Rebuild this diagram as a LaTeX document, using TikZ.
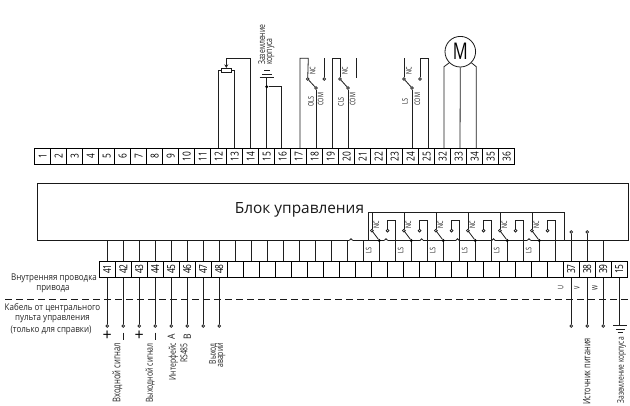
\documentclass[tikz,border=0pt]{standalone}
\usetikzlibrary{arrows.meta}
\usepackage{graphicx}
\usepackage{fontspec}
\setmainfont{Open Sans}
\newfontfamily\cond[FakeStretch=0.86]{Open Sans}
\newfontfamily\condn[FakeStretch=0.76]{Open Sans}
\newfontfamily\condx[FakeStretch=0.72]{Open Sans}
\newcommand{\rt}[1]{\rotatebox{90}{#1}}
\tikzset{
  wire/.style={draw=black!88,line width=0.8pt},
  term/.style={draw=black,line width=1pt,rectangle,minimum width=16pt,minimum height=16pt,inner sep=0pt,font=\condn\fontsize{11}{11}\selectfont},
  odot/.style={circle,draw=black!90,fill=white,line width=0.75pt,inner sep=0pt,minimum size=2.8pt},
  fdot/.style={circle,fill=black,inner sep=0pt,minimum size=3.2pt},
  vlab/.style={rotate=90,inner sep=0pt,font=\condx\fontsize{7.6}{7.6}\selectfont,text=black!90},
  cap9/.style={rotate=90,inner sep=0pt,anchor=east,font=\condx\fontsize{9.5}{9.5}\selectfont,text=black!85},
  side/.style={inner sep=0pt,font=\cond\fontsize{9.3}{9.3}\selectfont,text=black!85},
}
\begin{document}
\begin{tikzpicture}[x=1pt,y=-1pt]
\useasboundingbox (0,0) rectangle (630,405);
\fill[white] (0,0) rectangle (630,405);
% top terminal strip
\foreach \lab [count=\k from 0] in {1,2,3,4,5,6,7,8,9,10,11,12,13,14,15,16,17,18,19,20,21,22,23,24,25,32,33,34,35,36}
  \node[term] (t\lab) at ({42.7+16*\k},156.3) {\rt{\lab}};
% wire take-offs on the top strip
\foreach \lab/\wx in {12/218.7,13/234.7,14/250.7,15/266.7,16/281.3,17/300,18/316,19/332,20/348,24/412,25/428.3,32/444,33/460,34/476.3}
  \coordinate (w\lab) at (\wx,148.3);
% potentiometer
\draw[wire] (w12) |- (w13 |- 0,70.7) -- (w13);
\node[draw=black!90,line width=0.8pt,fill=white,minimum width=10pt,minimum height=4pt,inner sep=0pt] (pot) at (226.3,70.3) {};
\coordinate (pa) at (226.3,58.3);
\draw[wire] (w14) |- (pa);
\draw[wire,-{Stealth[length=3.5pt,width=4pt,open]}] (pa) -- (pot.north);
% earth
\coordinate (eg) at (266.7,77.3);
\draw[wire] (w15) -- (eg);
\draw[wire] (259.7,77.3) -- (273.7,77.3);
\draw[wire] (262,74) -- (272,74);
\draw[wire] (264,70.5) -- (270,70.5);
\node[fdot] (ed) at (266.7,86.7) {};
\draw[wire] (ed) -| (w16);
\node[cap9,anchor=west] (e1) at (261.7,65) {Заземление};
\node[cap9,anchor=west] (e2) at (270.7,65) {корпуса};
% OLS
\node[odot] (o1) at (307.7,79) {};
\node[odot] (o2) at (316,88) {};
\node[odot] (o3) at (324.3,79) {};
\draw[wire] (w17) |- (308.3,58.3) -- (o1);
\draw[wire] (o1) -- (o2);
\draw[wire] (w18) -- (o2);
\draw[wire] (o3) -- (324.3,58.3);
\node[vlab] (ln1) at (312.7,70.7) {NC};
\node[vlab] (lc1) at (320.7,99.3) {COM};
\node[vlab] (ll1) at (311,101.7) {OLS};
% CLS
\node[odot] (c1) at (340,79) {};
\node[odot] (c2) at (348,88) {};
\draw[wire] (w19) |- (340,58.3) -- (c1);
\draw[wire] (c1) -- (c2);
\draw[wire] (w20) -- (c2);
\draw[wire] (356.3,58.3) -- (356.3,77.7);
\node[vlab] (ln2) at (345,70.7) {NC};
\node[vlab] (lc2) at (352.7,99.3) {COM};
\node[vlab] (ll2) at (341,101.7) {CLS};
% LS
\node[odot] (l1) at (404,79) {};
\node[odot] (l2) at (412,88) {};
\node[odot] (l3) at (420,79) {};
\draw[wire] (l1) -- (404,58.3);
\draw[wire] (l1) -- (l2);
\draw[wire] (w24) -- (l2);
\draw[wire] (l3) |- (428.3,58.3) -- (w25);
\node[vlab] (ln3) at (409,70.7) {NC};
\node[vlab] (lc3) at (417.3,99.3) {COM};
\node[vlab] (ll3) at (405,101.7) {LS};
% motor
\node[circle,draw=black!90,line width=0.8pt,minimum size=30.6pt,inner sep=0pt,font=\condx\fontsize{23}{23}\selectfont] (mot) at (460.3,51.7) {M};
\draw[wire] (w33) -- (mot.south);
\draw[wire] (w32) -- (444,66.7) -- (mot.-135);
\draw[wire] (w34) -- (476.3,66.7) -- (mot.-45);
% control block
\node[draw=black!90,line width=1pt,minimum width=590.5pt,minimum height=57pt,inner sep=0pt] (block) at (332.75,212) {};
\node[inner sep=0pt,anchor=base,font=\fontsize{15.4}{15.4}\selectfont,text=black!90] (title) at (299.5,213) {Блок управления};
% dashed divider
\draw[black!90,line width=0.8pt,dash pattern=on 7pt off 4pt] (5,299.3) -- (630,299.3);
% bottom terminal strip
\foreach \k/\lab in {0/41,1/42,2/43,3/44,4/45,5/46,6/47,7/48,29/37,30/38,31/39,32/15}
  \node[term] (b\k) at ({107.3+16*\k},269.2) {\rt{\lab}};
\foreach \k in {8,...,28}
  \node[term] (b\k) at ({107.3+16*\k},269.2) {};
% wires to block
\foreach \k in {0,...,28,31}
  \draw[wire] (b\k.north) -- (b\k.north |- block.south);
% contour of the limit switches
\coordinate (ca) at (368.3,240.5);
\coordinate (cb) at (564.3,240.5);
\draw[wire] (ca) |- (564.3,212.7) -- (cb);
% switch groups
\foreach \k [evaluate=\k as \x using {107.3+16*\k}, evaluate=\k as \n using int(\k+1)] in {17,19,21,23,25,27} {
  \node[fdot] (s\k) at (\x,240.5) {};
  \node[odot] (sl\k) at (\x-7.4,230.7) {};
  \node[odot] (sr\k) at (\x+8.3,230.7) {};
  \draw[wire] (s\k) -- (sl\k);
  \draw[wire] (sl\k) -- (\x-7.4,212.7);
  \draw[wire] (sr\k) |- (\x+16,220) -- (b\n.north |- block.south);
  \node[vlab] (n\k) at (\x-3,225) {NC};
  \node[vlab] (ls\k) at (\x-10.7,250.7) {LS};
}
% wire-jump bumps on the bus
\foreach \bx [count=\j] in {351,386,421.7,457.5,493.5,529} {
  \draw[white,line width=1.4pt] (\bx-1.7,240.5) -- (\bx+1.7,240.5);
  \draw[wire] (\bx-1.7,240.5) arc[start angle=180,end angle=0,radius=1.7pt];
}
% 37, 38 open contacts
\foreach \k in {29,30} {
  \node[odot] (u\k) at (b\k.north |- 0,232) {};
  \draw[wire] (b\k.north) -- (u\k);
}
% field side wires
\foreach \k in {0,...,7,29,30,31} {
  \node[odot] (d\k) at (b\k.south |- 0,326) {};
  \draw[wire] (b\k.south) -- (d\k);
}
\coordinate (gnd) at (b32.south |- 0,325);
\draw[wire] (b32.south) -- (gnd);
\draw[wire] (613.3,325) -- (626.7,325);
\draw[wire] (615.5,329) -- (624.5,329);
\draw[wire] (617.5,332.5) -- (622.5,332.5);
% signs
\foreach \k/\s in {0/+,2/+} \node[inner sep=0pt,font=\fontsize{16}{16}\selectfont] (sg\k) at (b\k.south |- 0,336) {\s};
\foreach \k in {1,3} \draw[wire] (b\k.south |- 0,332.5) -- (b\k.south |- 0,339.5);
\node[vlab,font=\cond\fontsize{10}{10}\selectfont] (sa) at (b4.south |- 0,336.5) {A};
\node[vlab,font=\cond\fontsize{10}{10}\selectfont] (sb) at (b5.south |- 0,336.5) {B};
% captions
\node[cap9,font=\condx\fontsize{10.6}{10.6}\selectfont] (c1a) at (117.3,343) {Входной сигнал};
\node[cap9,font=\condx\fontsize{9.7}{9.7}\selectfont] (c2a) at (150,343) {Выходной сигнал};
\node[cap9] (c3a) at (173.3,343) {Интерфейс};
\node[cap9] (c3b) at (184,343) {RS485};
\node[cap9] (c4a) at (213.3,343) {Выход};
\node[cap9] (c4b) at (221.7,343) {аварии};
\node[cap9,font=\condx\fontsize{10.2}{10.2}\selectfont] (c5) at (586.7,338) {Источник питания};
\node[cap9,font=\condx\fontsize{9.2}{9.2}\selectfont] (c6) at (621.7,337) {Заземление корпуса};
\node[vlab] (lu) at (560.7,288) {U};
\node[vlab] (lv) at (577,288) {V};
\node[vlab] (lw) at (595,288) {W};
% side labels
\node[side] (s1) at (54,278.3) {Внутренняя проводка};
\node[side] (s2) at (53,289) {привода};
\node[side] (s3) at (52.5,308.3) {Кабель от центрального};
\node[side] (s4) at (52.5,319.3) {пульта управления};
\node[side] (s5) at (51,330.3) {(только для справки)};
\end{tikzpicture}
\end{document}
